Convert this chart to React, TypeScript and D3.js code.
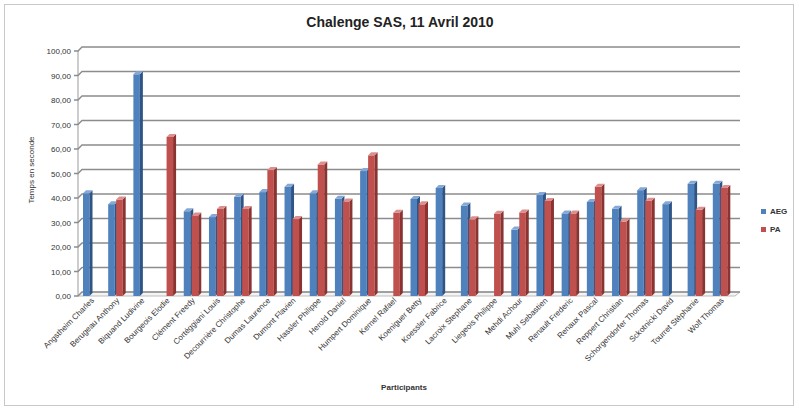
import React from "react";
import * as d3 from "d3";

const categories = [
  "Angstheim Charles", "Berugeau Anthony", "Biquand Ludivine", "Bourgeois Elodie",
  "Clément Freedy", "Cortéggiani Louis", "Decourrière Christophe", "Dumas Laurence",
  "Dumont Flavien", "Hassler Philippe", "Herold Daniel", "Humpert Dominique",
  "Kernel Rafael", "Koeniguer Betty", "Koessler Fabrice", "Lacroix Stephane",
  "Liegeois Philippe", "Mehdi Achour", "Muhl Sebastien", "Renault Frederic",
  "Renaux Pascal", "Reppert Christian", "Schorgendorfer Thomas", "Sckotnicki David",
  "Tourret Stéphanie", "Wolf Thomas",
];
const aeg: (number | null)[] = [41.9, 37.5, 90.5, null, 34.6, 32.2, 40.5, 42.4, 44.6, 41.9, 39.7, 51, null, 39.6, 44.1, 36.9, null, 27.1, 41.2, 33.7, 38.4, 35.6, 43.2, 37.5, 45.8, 45.8];
const pa: (number | null)[] = [null, 39.4, null, 64.9, 32.9, 35.5, 35.5, 51.4, 31.4, 53.7, 38.6, 57.4, 34, 37.4, null, 31.3, 33.6, 34.1, 38.8, 33.7, 44.6, 30.4, 38.9, null, 35.2, 44.1];
const seriesNames = ["AEG", "PA"];
const yTicks = [0, 10, 20, 30, 40, 50, 60, 70, 80, 90, 100];

const colors: Record<string, { front: string; side: string; top: string }> = {
  AEG: { front: "#4f81bd", side: "#2f5587", top: "#86a8d6" },
  PA: { front: "#c0504d", side: "#8a3330", top: "#dc8f8d" },
};

export default function App() {
  const W = 799, H = 411;
  const D = 4; // wall depth offset
  const bd = 3; // bar depth
  const x = d3.scaleBand<string>().domain(categories).range([80, 735]);
  const xs = d3.scaleBand<string>().domain(seriesNames).range([3, 19]);
  const y = d3.scaleLinear().domain([0, 100]).range([296, 51]);
  const fmt = (v: number) => d3.format(".2f")(v).replace(".", ",");
  const bw = 6.5;
  const font = "'Liberation Sans', Arial, sans-serif";

  const bars: JSX.Element[] = [];
  categories.forEach((c, i) => {
    [["AEG", aeg[i]], ["PA", pa[i]]].forEach(([s, v]) => {
      if (v == null) return;
      const col = colors[s as string];
      const x0 = (x(c) as number) + (xs(s as string) as number);
      const yt = y(v as number), yb = y(0);
      bars.push(
        <g key={c + s}>
          <rect x={x0} y={yt} width={bw} height={yb - yt} fill={col.front} />
          <polygon points={`${x0 + bw},${yt} ${x0 + bw + bd},${yt - bd} ${x0 + bw + bd},${yb - bd} ${x0 + bw},${yb}`} fill={col.side} />
          <polygon points={`${x0},${yt} ${x0 + bd},${yt - bd} ${x0 + bw + bd},${yt - bd} ${x0 + bw},${yt}`} fill={col.top} />
        </g>
      );
    });
  });

  return (
    <svg width={W} height={H} style={{ position: "absolute", left: 0, top: 0, background: "#fff" }}>
      <rect x={4.5} y={4.5} width={789} height={401} fill="#fff" stroke="#c8c8c8" />
      <text x={400} y={27} textAnchor="middle" fontFamily={font} fontSize={14} fontWeight="bold" fill="#222">
        Chalenge SAS, 11 Avril 2010
      </text>
      {/* floor */}
      <polygon points={`78,${y(0)} 735,${y(0)} 740,${y(0) - D} 82,${y(0) - D}`} fill="#f4f4f4" stroke="#bdbdbd" />
      {/* left axis */}
      <line x1={78} x2={78} y1={y(0)} y2={y(100)} stroke="#9a9a9a" />
      {yTicks.map((t) => (
        <g key={t}>
          <path d={`M74,${y(t)} L78,${y(t)} L82,${y(t) - D} L740,${y(t) - D}`} fill="none" stroke="#8c8c8c" strokeWidth={1.4} />
          <text x={71} y={y(t) + 3} textAnchor="end" fontFamily={font} fontSize={8} fill="#333">{fmt(t)}</text>
        </g>
      ))}
      {bars}
      {categories.map((c) => {
        const cx = (x(c) as number) + x.bandwidth() / 2 + 2;
        return (
          <text key={c} transform={`translate(${cx},${301}) rotate(-45)`} textAnchor="end" fontFamily={font} fontSize={8} fill="#333">
            {c}
          </text>
        );
      })}
      <text transform={`translate(34,170) rotate(-90)`} textAnchor="middle" fontFamily={font} fontSize={8} fill="#333">
        Temps en seconde
      </text>
      <text x={404} y={390} textAnchor="middle" fontFamily={font} fontSize={8} fontWeight="bold" fill="#333">
        Participants
      </text>
      {seriesNames.map((s, i) => (
        <g key={s} transform={`translate(761,${209 + i * 18})`}>
          <rect x={0} y={0} width={5} height={5} fill={colors[s].front} />
          <text x={9} y={5} fontFamily={font} fontSize={8} fontWeight="bold" fill="#333">{s}</text>
        </g>
      ))}
    </svg>
  );
}
